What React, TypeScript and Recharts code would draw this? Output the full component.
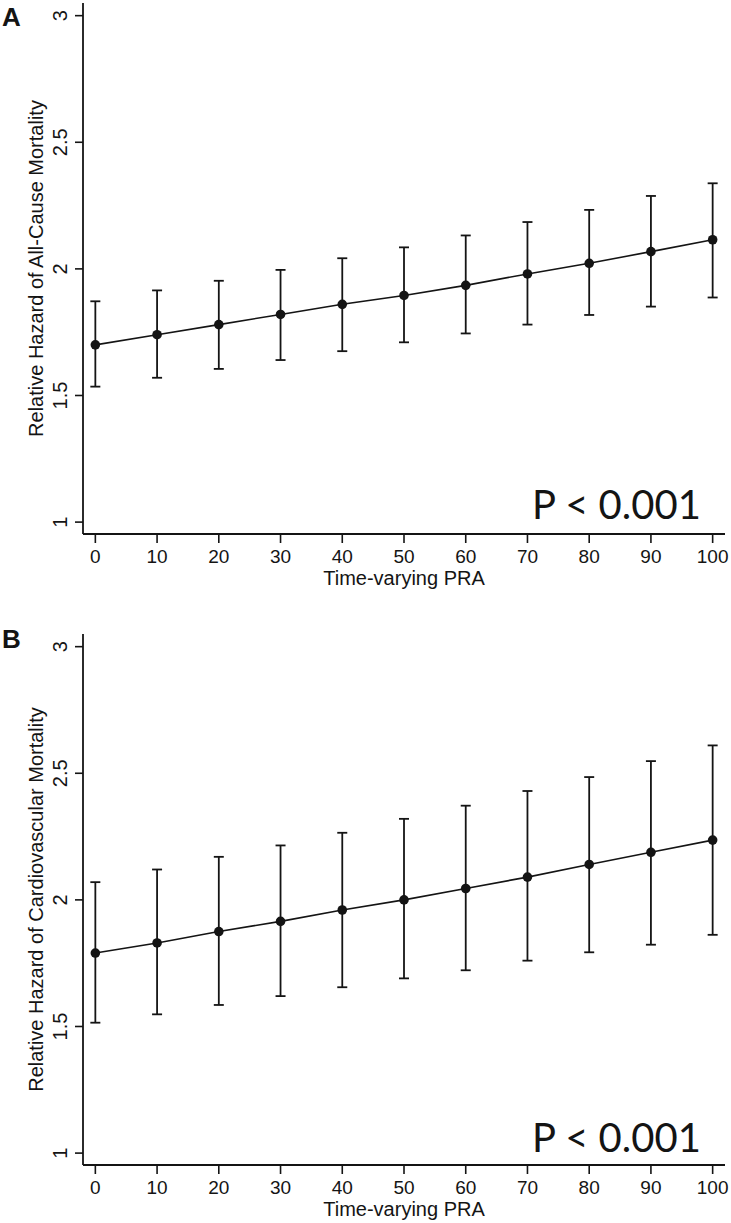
import { ComposedChart, Line, XAxis, YAxis, ErrorBar } from "recharts";

const praValues = [0, 10, 20, 30, 40, 50, 60, 70, 80, 90, 100];
const yTicks = [1, 1.5, 2, 2.5, 3];

// Panel A: all-cause mortality
const allCauseEst = [1.70, 1.74, 1.78, 1.82, 1.86, 1.895, 1.935, 1.98, 2.022, 2.068, 2.115];
const allCauseLow = [1.535, 1.57, 1.605, 1.64, 1.675, 1.71, 1.745, 1.78, 1.818, 1.851, 1.887];
const allCauseHigh = [1.872, 1.915, 1.953, 1.996, 2.042, 2.085, 2.132, 2.185, 2.233, 2.288, 2.338];

// Panel B: cardiovascular mortality
const cvEst = [1.79, 1.83, 1.875, 1.915, 1.96, 2.0, 2.045, 2.09, 2.14, 2.188, 2.236];
const cvLow = [1.515, 1.548, 1.585, 1.62, 1.655, 1.69, 1.722, 1.76, 1.793, 1.823, 1.862];
const cvHigh = [2.07, 2.12, 2.17, 2.215, 2.265, 2.32, 2.372, 2.43, 2.485, 2.548, 2.61];

const buildRows = (est: number[], low: number[], high: number[]) =>
  praValues.map((p, i) => ({
    pra: p,
    est: est[i],
    err: [est[i] - low[i], high[i] - est[i]],
  }));

const INK = "#141414";
const FONT = "'Liberation Sans', Arial, sans-serif";
const PLOT_TOP = 3;
const PLOT_H = 531;

const YTick = (props: any) => {
  const { y, payload } = props;
  return (
    <text
      x={67}
      y={y}
      transform={`rotate(-90, 67, ${y})`}
      textAnchor="middle"
      fontSize={20}
      fill={INK}
      fontFamily={FONT}
    >
      {payload.value}
    </text>
  );
};

const XTick = (props: any) => {
  const { x, payload } = props;
  return (
    <text
      x={x}
      y={PLOT_TOP + PLOT_H + 29}
      textAnchor="middle"
      fontSize={19}
      fill={INK}
      fontFamily={FONT}
    >
      {payload.value}
    </text>
  );
};

interface PanelProps {
  rows: { pra: number; est: number; err: number[] }[];
  top: number;
  height: number;
  yTitle: string;
  pY: number;
}

function Panel({ rows, top, height, yTitle, pY }: PanelProps) {
  const bottom = height - PLOT_TOP - PLOT_H - 30;
  return (
    <div style={{ position: "absolute", left: 0, top, width: 731, height }}>
      <ComposedChart
        width={731}
        height={height}
        data={rows}
        margin={{ top: PLOT_TOP, right: 6, bottom, left: 23 }}
      >
        <XAxis
          dataKey="pra"
          type="number"
          domain={[-2, 102]}
          ticks={praValues}
          allowDataOverflow
          height={30}
          tickSize={9}
          axisLine={{ stroke: INK, strokeWidth: 1.8 }}
          tickLine={{ stroke: INK, strokeWidth: 1.6 }}
          tick={<XTick />}
        />
        <YAxis
          type="number"
          domain={[0.953, 3.05]}
          ticks={yTicks}
          allowDataOverflow
          width={60}
          tickSize={8}
          axisLine={{ stroke: INK, strokeWidth: 1.8 }}
          tickLine={{ stroke: INK, strokeWidth: 1.6 }}
          tick={<YTick />}
        />
        <Line
          dataKey="est"
          type="linear"
          stroke={INK}
          strokeWidth={1.6}
          dot={{ r: 4.8, fill: INK, stroke: INK, strokeWidth: 0 }}
          activeDot={false}
          isAnimationActive={false}
        >
          <ErrorBar
            dataKey="err"
            direction="y"
            width={5}
            stroke={INK}
            strokeWidth={1.8}
            isAnimationActive={false}
          />
        </Line>
      </ComposedChart>
      <svg
        width={731}
        height={height}
        style={{ position: "absolute", left: 0, top: 0, pointerEvents: "none" }}
      >
        <text
          x={43}
          y={PLOT_TOP + PLOT_H / 2}
          transform={`rotate(-90, 43, ${PLOT_TOP + PLOT_H / 2})`}
          textAnchor="middle"
          fontSize={20}
          fill={INK}
          fontFamily={FONT}
        >
          {yTitle}
        </text>
        <text
          x={404}
          y={PLOT_TOP + PLOT_H + 51}
          textAnchor="middle"
          fontSize={20}
          fill={INK}
          fontFamily={FONT}
        >
          Time-varying PRA
        </text>
        <text x={532} y={pY} fontSize={40} fill={INK} fontFamily="Lato, 'Open Sans', sans-serif">
          P &lt; 0.001
        </text>
      </svg>
    </div>
  );
}

export default function App() {
  return (
    <div
      style={{
        position: "absolute",
        left: 0,
        top: 0,
        width: 731,
        height: 1223,
        background: "#fff",
        overflow: "hidden",
      }}
    >
      <Panel
        rows={buildRows(allCauseEst, allCauseLow, allCauseHigh)}
        top={0}
        height={600}
        yTitle="Relative Hazard of All-Cause Mortality"
        pY={519}
      />
      <Panel
        rows={buildRows(cvEst, cvLow, cvHigh)}
        top={631}
        height={592}
        yTitle="Relative Hazard of Cardiovascular Mortality"
        pY={521}
      />
      <svg
        width={731}
        height={1223}
        style={{ position: "absolute", left: 0, top: 0, pointerEvents: "none" }}
      >
        <text x={2} y={26} fontSize={26} fontWeight="bold" fill={INK} fontFamily={FONT}>
          A
        </text>
        <text x={2} y={648} fontSize={26} fontWeight="bold" fill={INK} fontFamily={FONT}>
          B
        </text>
      </svg>
    </div>
  );
}
